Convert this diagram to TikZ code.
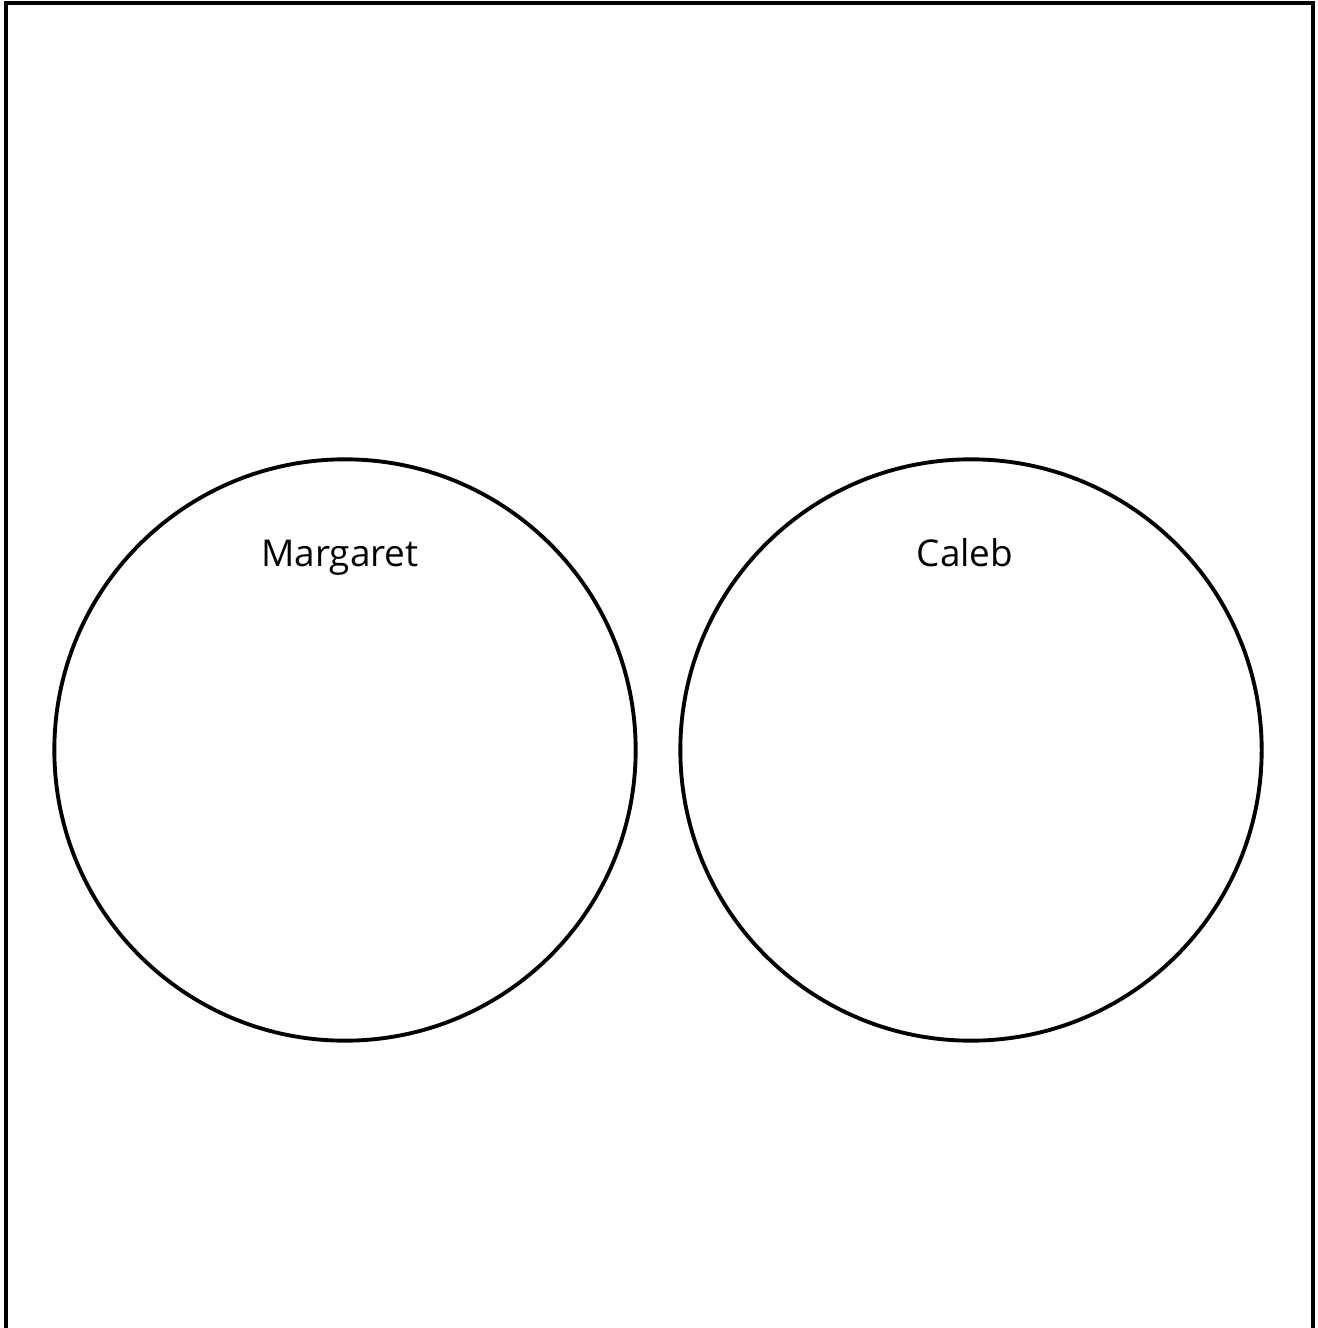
\documentclass[tikz,border=0pt]{standalone}
\usepackage{fontspec}
\setmainfont{Open Sans}
\begin{document}
\begin{tikzpicture}[x=0.01cm,y=-0.01cm]
\tikzset{
  setcircle/.style={draw,circle,line width=1.1pt,minimum size=5.81cm,inner sep=0pt},
  setname/.style={anchor=base,inner sep=0pt,font=\fontsize{10.5}{12}\selectfont}
}
\useasboundingbox (0,0) rectangle (1317,1328);
% frame
\draw[line width=1.2pt] (6,1328) -- (6,3) -- (1313,3) -- (1313,1328);
% Margaret
\node[setcircle] (margaret) at (345,750) {};
\node[setname] (margaretname) at (340,566) {Margaret};
% Caleb
\node[setcircle] (caleb) at (971,750) {};
\node[setname] (calebname) at (965,566) {Caleb};
\end{tikzpicture}
\end{document}
